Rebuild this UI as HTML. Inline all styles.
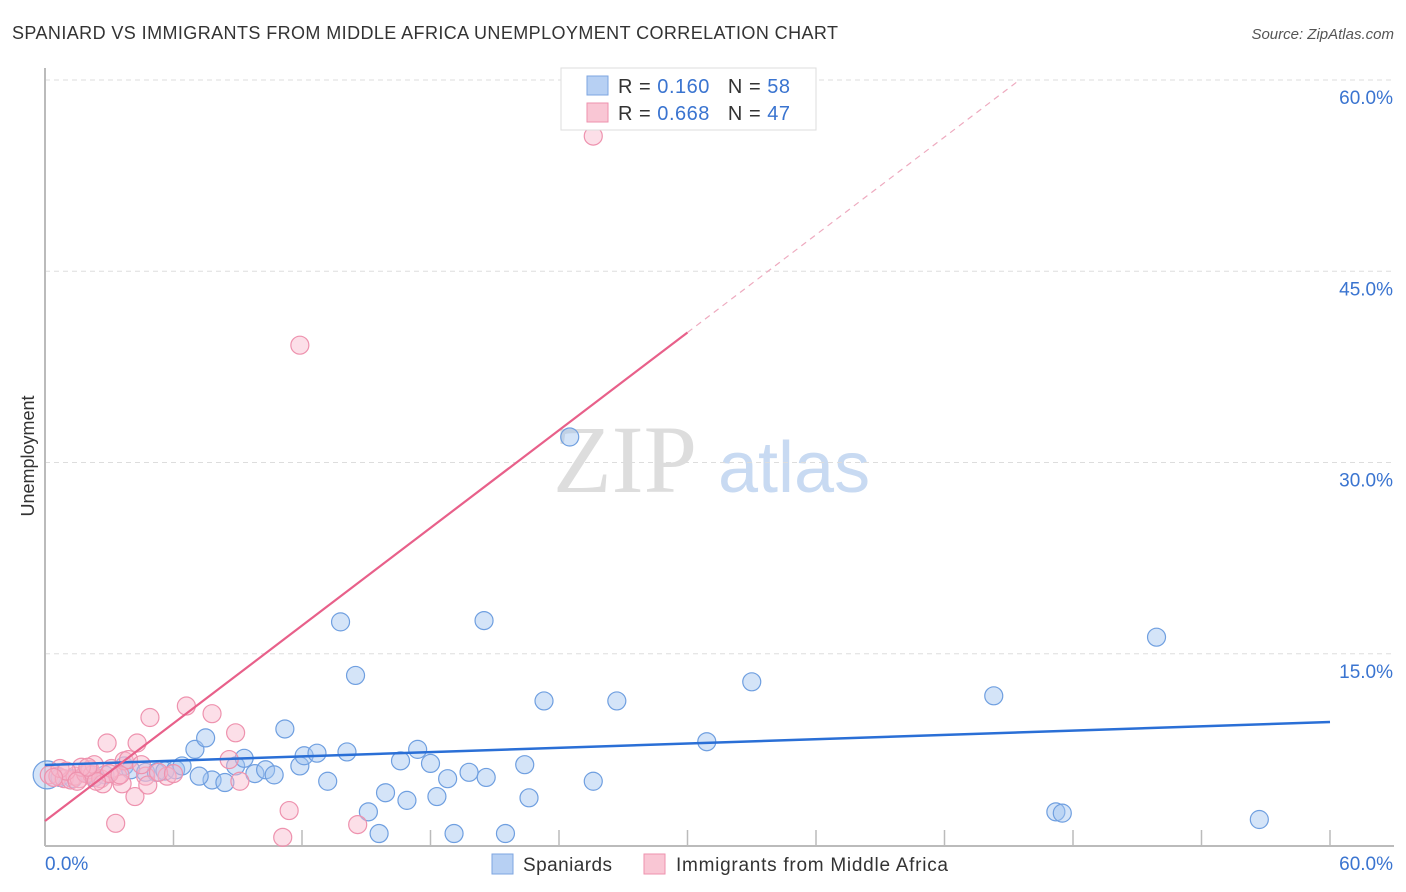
<!DOCTYPE html>
<html><head><meta charset="utf-8">
<style>
body{margin:0;background:#fff;font-family:"Liberation Sans",sans-serif;}
svg{display:block}
</style></head>
<body>
<svg id="chart" width="1406" height="892" viewBox="0 0 1406 892">
<text x="12" y="39" font-size="18" fill="#333" textLength="826">SPANIARD VS IMMIGRANTS FROM MIDDLE AFRICA UNEMPLOYMENT CORRELATION CHART</text>
<text x="1394" y="39" font-size="15" fill="#555" font-style="italic" text-anchor="end">Source: ZipAtlas.com</text>
<text transform="translate(34,456) rotate(-90)" font-size="18" fill="#333" text-anchor="middle">Unemployment</text>
<g>
<text x="553" y="492" font-family="Liberation Serif,serif" font-size="96" fill="#ddd">ZIP</text>
<text x="718" y="492" font-size="72" fill="#c8daf2">atlas</text>
</g>
<g id="grid"></g>
<g id="axes"></g>
<g id="points"></g>
<g id="lines"></g>
<g>
<rect x="561" y="68" width="255" height="62" fill="#fff" stroke="#ddd"/>
<rect x="587" y="76" width="21" height="19" fill="#b7d0f3" stroke="#7ea6e0"/>
<rect x="587" y="103" width="21" height="19" fill="#f9c6d4" stroke="#ee92ae"/>
<text x="618" y="93" font-size="20" fill="#333" textLength="172">R = <tspan fill="#3a74d0">0.160</tspan><tspan dx="18">N = </tspan><tspan fill="#3a74d0">58</tspan></text>
<text x="618" y="120" font-size="20" fill="#333" textLength="172">R = <tspan fill="#3a74d0">0.668</tspan><tspan dx="18">N = </tspan><tspan fill="#3a74d0">47</tspan></text>
</g>
<g>
<rect x="492" y="854" width="21" height="20" fill="#b7d0f3" stroke="#7ea6e0"/>
<text x="523" y="871" font-size="19" fill="#333" textLength="89">Spaniards</text>
<rect x="644" y="854" width="21" height="20" fill="#f9c6d4" stroke="#ee92ae"/>
<text x="676" y="871" font-size="19" fill="#333" textLength="272">Immigrants from Middle Africa</text>
</g>
</svg>
<script>
const xTicks=[0,60];
const yTicks=[15,30,45,60];
const blueX=[0.1,0.7,1.3,2.3,2.8,3.7,4.0,4.7,5.2,5.6,6.1,6.4,7.0,7.5,7.8,8.4,8.9,9.3,9.8,10.3,10.7,11.2,11.9,12.1,12.7,13.2,13.8,14.1,14.5,15.1,15.6,15.9,16.6,16.9,17.4,18.0,18.3,18.8,19.1,19.8,20.5,20.6,21.5,22.4,22.6,23.3,24.5,25.6,26.7,30.9,33.0,44.3,47.2,47.5,51.9,56.7,7.2,2.0];
const blueY=[5.5,5.3,5.2,5.3,5.5,6.2,5.9,5.7,5.7,5.8,5.9,6.2,7.5,8.4,5.1,4.9,6.2,6.8,5.6,5.9,5.5,9.1,6.2,7.0,7.2,5.0,17.5,7.3,13.3,2.6,0.9,4.1,6.6,3.5,7.5,6.4,3.8,5.2,0.9,5.7,17.6,5.3,0.9,6.3,3.7,11.3,32.0,5.0,11.3,8.1,12.8,11.7,2.6,2.5,16.3,2.0,5.4,5.6];
const pinkX=[0.2,0.6,0.9,1.2,1.4,1.6,1.9,2.1,2.2,2.6,2.7,2.9,3.1,3.3,3.4,3.6,3.7,3.9,4.2,4.3,4.7,4.8,4.9,5.7,6.6,7.8,8.6,8.9,9.1,11.1,11.4,11.9,14.6,25.6,2.3,0.7,1.7,1.0,3.0,2.4,4.5,5.3,1.5,3.5,0.4,2.0,6.0];
const pinkY=[5.5,5.4,5.2,5.1,5.4,5.2,5.6,5.9,5.5,5.2,4.8,8.0,6.0,1.7,5.4,4.8,6.6,6.7,3.8,8.0,5.4,4.7,10.0,5.4,10.9,10.3,6.7,8.8,5.0,0.6,2.7,39.2,1.6,55.6,6.3,6.0,6.1,5.8,5.6,5.0,6.3,5.7,5.0,5.5,5.3,6.1,5.6];
const blueTrend=[6.27,9.65];
const pinkTrend=[1.88,40.2];
const NS='http://www.w3.org/2000/svg';
const X=v=>45+v*(1285/60), Y=v=>845-v*12.75;
function mk(t,a,p){const e=document.createElementNS(NS,t);for(const k in a)e.setAttribute(k,a[k]);p.appendChild(e);return e;}
const grid=document.getElementById('grid'),axes=document.getElementById('axes'),pts=document.getElementById('points'),lines=document.getElementById('lines');
yTicks.forEach(v=>{
 const l=mk('line',{x1:45,x2:1394,y1:Y(v),y2:Y(v),stroke:'#ddd','stroke-dasharray':'5,4'},grid);
 
 
 const t=mk('text',{x:1393,y:Y(v)+24,'font-size':19,fill:'#3a74d0','text-anchor':'end'},axes);
 t.textContent=v.toFixed(1)+'%';
 
 
});
mk('line',{x1:45,x2:45,y1:68,y2:846,stroke:'#bbb','stroke-width':2},axes);
mk('line',{x1:45,x2:1394,y1:846,y2:846,stroke:'#bbb','stroke-width':2},axes);
for(let i=1;i<=10;i++){mk('line',{x1:X(i*6),x2:X(i*6),y1:830,y2:846,stroke:'#bbb','stroke-width':1.5},axes);}
xTicks.forEach((v,i)=>{
 const t=mk('text',{x:i==0?45:1393,y:870,'font-size':19,fill:'#3a74d0','text-anchor':i==0?'start':'end'},axes);
 t.textContent=v.toFixed(1)+'%';
 
 
});
blueX.forEach((x,i)=>{
 const c=mk('circle',{cx:X(x),cy:Y(blueY[i]),r:i==0?14:9,fill:'rgba(160,195,240,0.45)',stroke:'#6f9fe0','stroke-width':1.2},pts);
 
 
});
pinkX.forEach((x,i)=>{
 const c=mk('circle',{cx:X(x),cy:Y(pinkY[i]),r:9,fill:'rgba(248,185,205,0.45)',stroke:'#ee92ae','stroke-width':1.2},pts);
 
 
});
const bl=mk('line',{x1:X(0),y1:Y(blueTrend[0]),x2:X(60),y2:Y(blueTrend[1]),stroke:'#2a6fd6','stroke-width':2.5},lines);


const slope=(pinkTrend[1]-pinkTrend[0])/30;
const pl=mk('line',{x1:X(0),y1:Y(pinkTrend[0]),x2:X(30),y2:Y(pinkTrend[1]),stroke:'#e8608a','stroke-width':2.2},lines);


const xe=(60-pinkTrend[0])/slope;
const pd=mk('line',{x1:X(30),y1:Y(pinkTrend[1]),x2:X(xe),y2:Y(60),stroke:'#eeaabf','stroke-width':1.2,'stroke-dasharray':'6,5'},lines);


</script>
</body></html>
